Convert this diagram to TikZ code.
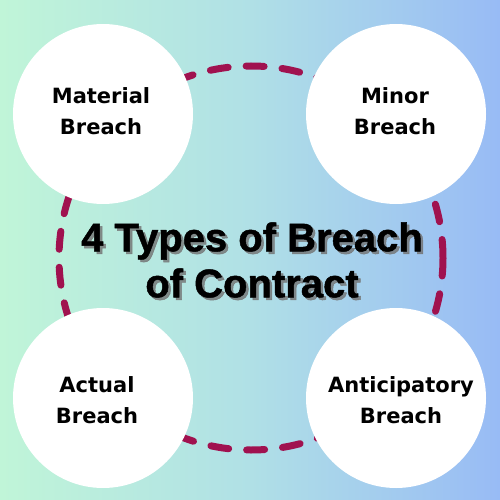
\documentclass[tikz,border=0pt]{standalone}
\usepackage{fontspec}
\setmainfont{Liberation Sans}
\newfontfamily\titlefont[BoldFeatures={FakeBold=1.2}]{Liberation Sans}
\newfontfamily\labelfont{DejaVu Sans}
\definecolor{mint}{HTML}{C0F5D8}
\definecolor{midcyan}{HTML}{B0E0E6}
\definecolor{skyblue}{HTML}{98BBF5}
\definecolor{maroon}{HTML}{A0124F}
\begin{document}
\begin{tikzpicture}[x=1pt,y=-1pt,
  bubble/.style={circle,fill=white,minimum size=180pt,inner sep=0pt},
  label/.style={font=\labelfont\fontsize{21}{31}\selectfont\bfseries,align=center,text=black},
  title/.style={font=\titlefont\fontsize{40}{46}\selectfont\bfseries,align=center},
  ring/.style={draw=maroon,line width=7pt,line cap=round,dash pattern=on 18pt off 18pt}]
\useasboundingbox (0,0) rectangle (500,500);
\shade[left color=mint,right color=skyblue,middle color=midcyan] (0,0) rectangle (500,500);
\coordinate (c) at (251,258);
\draw[ring] (c) circle[radius=192];
\node[bubble] (tl) at (103,114) {};
\node[bubble] (tr) at (396,114) {};
\node[bubble] (bl) at (103,398) {};
\node[bubble] (br) at (396,398) {};
\node[label] (tlt) at (101,111) {Material\\Breach};
\node[label] (trt) at (395,111) {Minor\\Breach};
\node[label] (blt) at (97,400) {Actual\\Breach};
\node[label] (brt) at (401,400) {Anticipatory\\Breach};
\node[title,text=black!55,opacity=0.8] (shadow) at (254.5,262.5) {4 Types of Breach\\of Contract};
\node[title,text=black] (ttl) at (252,260) {4 Types of Breach\\of Contract};
\end{tikzpicture}
\end{document}
